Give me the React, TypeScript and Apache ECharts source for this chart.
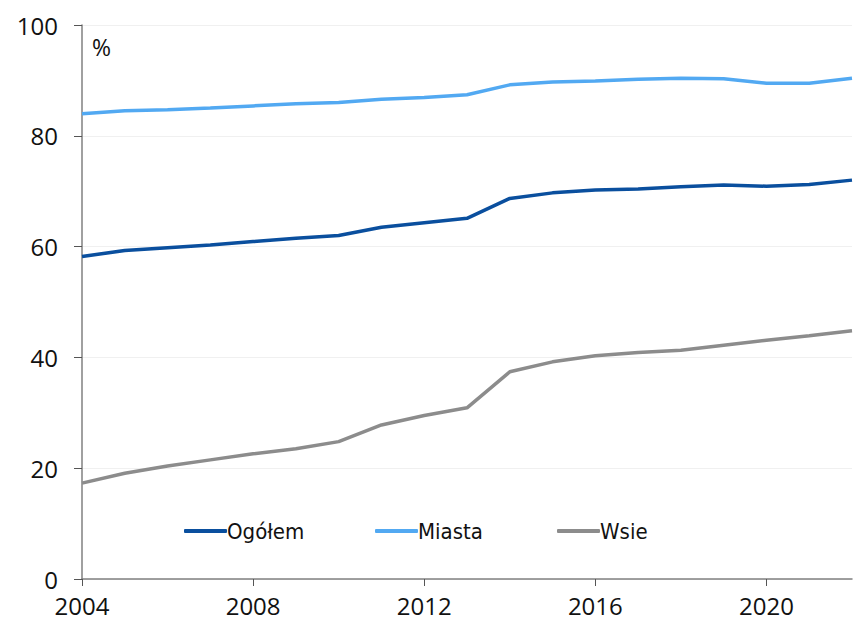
import React, { useEffect, useRef } from "react";
import * as echarts from "echarts";

const years = [2004, 2005, 2006, 2007, 2008, 2009, 2010, 2011, 2012, 2013, 2014, 2015, 2016, 2017, 2018, 2019, 2020, 2021, 2022];
const ogolem = [58.2, 59.3, 59.8, 60.3, 60.9, 61.5, 62.0, 63.5, 64.3, 65.1, 68.7, 69.7, 70.2, 70.4, 70.8, 71.1, 70.9, 71.2, 72.0];
const miasta = [84.0, 84.5, 84.7, 85.0, 85.4, 85.8, 86.0, 86.6, 86.9, 87.4, 89.2, 89.7, 89.9, 90.2, 90.4, 90.3, 89.5, 89.5, 90.4];
const wsie = [17.3, 19.1, 20.4, 21.5, 22.6, 23.5, 24.8, 27.8, 29.5, 30.9, 37.4, 39.2, 40.3, 40.9, 41.3, 42.2, 43.1, 43.9, 44.8];
const xTicks = [2004, 2008, 2012, 2016, 2020];
const seriesNames = ["Ogółem", "Miasta", "Wsie"];
const unitLabel = "%";

const colors = ["#0a4f9e", "#52a9f2", "#8c8c8c"];
const legendLefts = [179, 370, 552];

export default function App() {
  const ref = useRef<HTMLDivElement>(null);
  useEffect(() => {
    const chart = echarts.init(ref.current!, null, { renderer: "svg" });
    const pair = (vals: number[]) => years.map((y, i) => [y, vals[i]]);
    const font = "'Open Sans', 'Noto Sans', sans-serif";
    chart.setOption({
      animation: false,
      backgroundColor: "#ffffff",
      color: colors,
      grid: { left: 82, right: 2, top: 25, bottom: 44, containLabel: false },
      legend: seriesNames.map((name, i) => ({
        top: 515,
        left: legendLefts[i],
        itemWidth: 43,
        itemHeight: 4,
        icon: "roundRect",
        textStyle: { fontFamily: "'DejaVu Sans Condensed', sans-serif", fontSize: 22, color: "#111", padding: [0, 0, 0, -5] },
        data: [name],
      })),
      graphic: [
        {
          type: "text",
          left: 92,
          top: 35,
          style: { text: unitLabel, fontSize: 23, fontFamily: font, fill: "#111" },
        },
      ],
      xAxis: {
        type: "value",
        min: 2004,
        max: 2022,
        interval: 4,
        axisLine: { lineStyle: { color: "#808080", width: 1.5 } },
        axisTick: { show: true, length: 7, lineStyle: { color: "#555" }, customValues: xTicks },
        axisLabel: { margin: 14, fontSize: 24, fontFamily: font, color: "#111", customValues: xTicks, formatter: (v: number) => String(v) },
        splitLine: { show: false },
      },
      yAxis: {
        type: "value",
        min: 0,
        max: 100,
        interval: 20,
        axisLine: { show: true, lineStyle: { color: "#808080", width: 1.5 } },
        axisTick: { show: true, length: 8, lineStyle: { color: "#555" } },
        axisLabel: { margin: 24, fontSize: 24, fontFamily: font, color: "#111" },
        splitLine: { show: true, lineStyle: { color: "#f0f0f0", width: 1 } },
      },
      series: [
        { name: seriesNames[0], type: "line", data: pair(ogolem), showSymbol: false, lineStyle: { width: 3.5, color: colors[0] }, itemStyle: { color: colors[0] } },
        { name: seriesNames[1], type: "line", data: pair(miasta), showSymbol: false, lineStyle: { width: 3.5, color: colors[1] }, itemStyle: { color: colors[1] } },
        { name: seriesNames[2], type: "line", data: pair(wsie), showSymbol: false, lineStyle: { width: 3.5, color: colors[2] }, itemStyle: { color: colors[2] } },
      ],
    });
    return () => chart.dispose();
  }, []);
  return <div ref={ref} style={{ position: "absolute", left: 0, top: 0, width: 854, height: 623 }} />;
}
